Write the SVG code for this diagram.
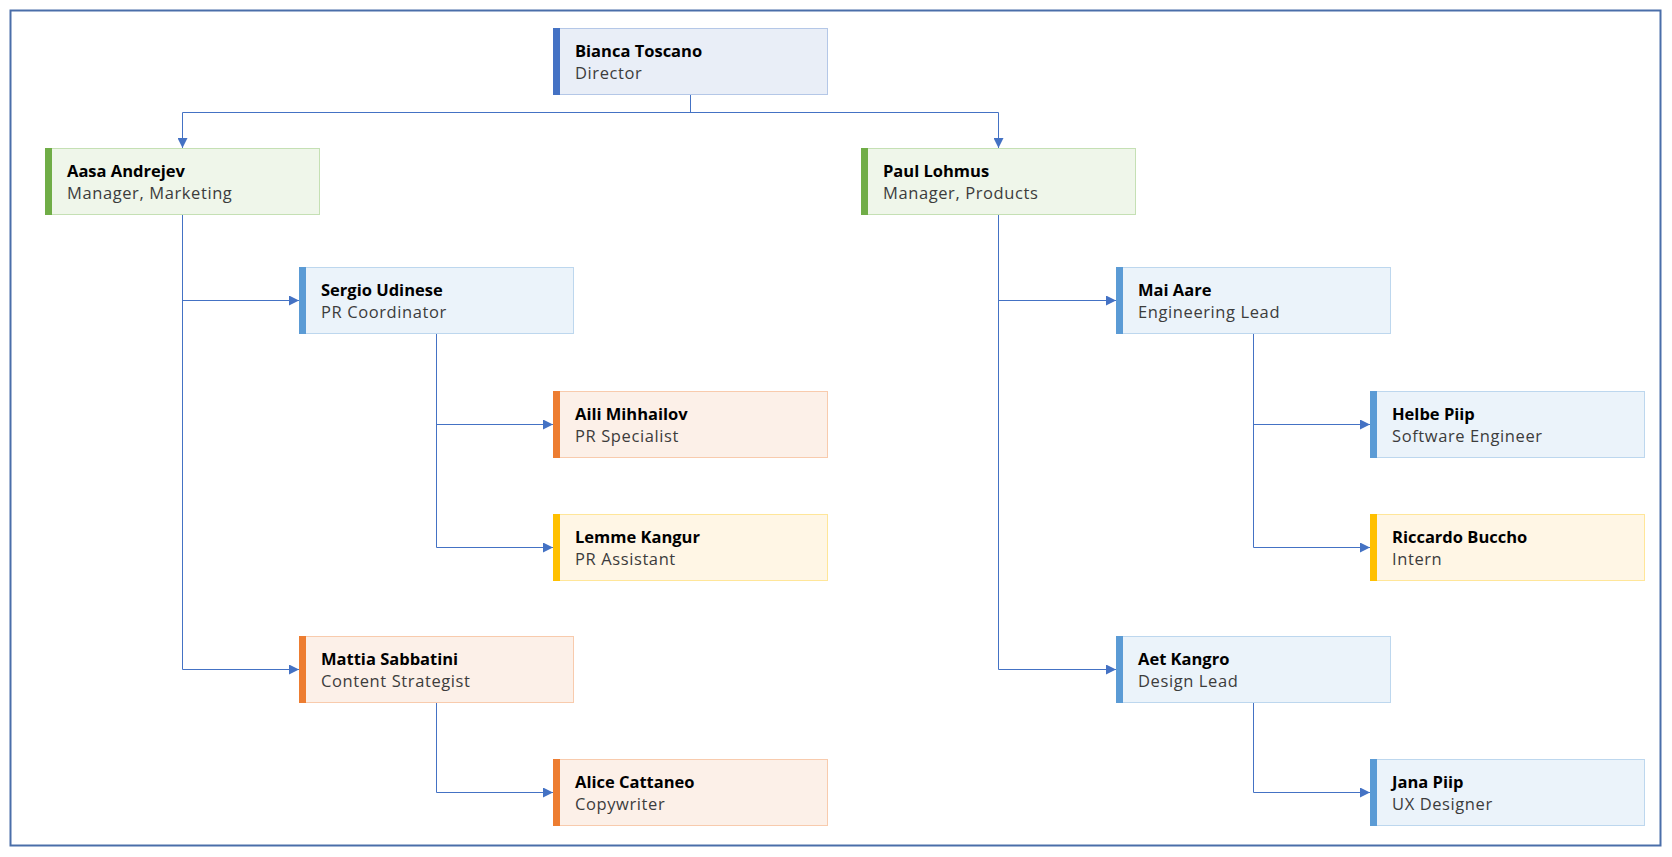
<svg xmlns="http://www.w3.org/2000/svg" width="1672" height="857" viewBox="0 0 1672 857">
<style>
.bg{fill:#ffffff}
.frame{fill:none;stroke:#4a6ea9;stroke-width:2}
.box{stroke-width:1}
.name{font-family:"Open Sans","Noto Sans","Liberation Sans",sans-serif;font-weight:bold;font-size:16.5px;fill:#000000}
.sub{font-family:"Open Sans","Noto Sans","Liberation Sans",sans-serif;font-size:16.5px;letter-spacing:0.6px;fill:#3c3c3c}
.navy .box{fill:#e9eef7;stroke:#b4c7e7}.navy .bar{fill:#4472c4}
.green .box{fill:#eff6ea;stroke:#c5e0b4}.green .bar{fill:#70ad47}
.sky .box{fill:#ebf3fa;stroke:#bdd7ee}.sky .bar{fill:#5b9bd5}
.orange .box{fill:#fcf0e8;stroke:#f8cbad}.orange .bar{fill:#ed7d31}
.yellow .box{fill:#fff6e5;stroke:#ffe699}.yellow .bar{fill:#ffc000}
.conn path{fill:none;stroke:#4472c4;stroke-width:1}
</style>
<defs>
<marker id="arr" markerUnits="userSpaceOnUse" markerWidth="10" markerHeight="10" refX="10" refY="5" orient="auto" viewBox="0 0 10 10">
<path d="M0,0 L10,5 L0,10 z" fill="#4472c4"/>
</marker>
</defs>
<rect class="bg" x="0" y="0" width="1672" height="857"/>
<rect class="frame" x="10.5" y="10.5" width="1650" height="835"/>

<g id="connectors" class="conn">
<path d="M690.5 94.5 V112.5"/>
<path d="M182.5 112.5 H998.5"/>
<path d="M182.5 112.5 V148" marker-end="url(#arr)"/>
<path d="M998.5 112.5 V148" marker-end="url(#arr)"/>
<path d="M182.5 214.5 V669.5"/>
<path d="M182.5 300.5 H299" marker-end="url(#arr)"/>
<path d="M182.5 669.5 H299" marker-end="url(#arr)"/>
<path d="M436.5 333.5 V547.5"/>
<path d="M436.5 424.5 H553" marker-end="url(#arr)"/>
<path d="M436.5 547.5 H553" marker-end="url(#arr)"/>
<path d="M436.5 702.5 V792.5 H553" marker-end="url(#arr)"/>
<path d="M998.5 214.5 V669.5"/>
<path d="M998.5 300.5 H1116" marker-end="url(#arr)"/>
<path d="M998.5 669.5 H1116" marker-end="url(#arr)"/>
<path d="M1253.5 333.5 V547.5"/>
<path d="M1253.5 424.5 H1370" marker-end="url(#arr)"/>
<path d="M1253.5 547.5 H1370" marker-end="url(#arr)"/>
<path d="M1253.5 702.5 V792.5 H1370" marker-end="url(#arr)"/>
</g>

<g id="n-bianca" class="navy" transform="translate(553.5,28.5)"><rect class="box" width="274" height="66"/><rect class="bar" x="-0.5" y="-0.5" width="7" height="67"/><text class="name" x="21.5" y="28">Bianca Toscano</text><text class="sub" x="21.5" y="50">Director</text></g>

<g id="n-aasa" class="green" transform="translate(45.5,148.5)"><rect class="box" width="274" height="66"/><rect class="bar" x="-0.5" y="-0.5" width="7" height="67"/><text class="name" x="21.5" y="28">Aasa Andrejev</text><text class="sub" x="21.5" y="50">Manager, Marketing</text></g>

<g id="n-paul" class="green" transform="translate(861.5,148.5)"><rect class="box" width="274" height="66"/><rect class="bar" x="-0.5" y="-0.5" width="7" height="67"/><text class="name" x="21.5" y="28">Paul Lohmus</text><text class="sub" x="21.5" y="50">Manager, Products</text></g>

<g id="n-sergio" class="sky" transform="translate(299.5,267.5)"><rect class="box" width="274" height="66"/><rect class="bar" x="-0.5" y="-0.5" width="7" height="67"/><text class="name" x="21.5" y="28">Sergio Udinese</text><text class="sub" x="21.5" y="50">PR Coordinator</text></g>

<g id="n-aili" class="orange" transform="translate(553.5,391.5)"><rect class="box" width="274" height="66"/><rect class="bar" x="-0.5" y="-0.5" width="7" height="67"/><text class="name" x="21.5" y="28">Aili Mihhailov</text><text class="sub" x="21.5" y="50">PR Specialist</text></g>

<g id="n-lemme" class="yellow" transform="translate(553.5,514.5)"><rect class="box" width="274" height="66"/><rect class="bar" x="-0.5" y="-0.5" width="7" height="67"/><text class="name" x="21.5" y="28">Lemme Kangur</text><text class="sub" x="21.5" y="50">PR Assistant</text></g>

<g id="n-mattia" class="orange" transform="translate(299.5,636.5)"><rect class="box" width="274" height="66"/><rect class="bar" x="-0.5" y="-0.5" width="7" height="67"/><text class="name" x="21.5" y="28">Mattia Sabbatini</text><text class="sub" x="21.5" y="50">Content Strategist</text></g>

<g id="n-alice" class="orange" transform="translate(553.5,759.5)"><rect class="box" width="274" height="66"/><rect class="bar" x="-0.5" y="-0.5" width="7" height="67"/><text class="name" x="21.5" y="28">Alice Cattaneo</text><text class="sub" x="21.5" y="50">Copywriter</text></g>

<g id="n-mai" class="sky" transform="translate(1116.5,267.5)"><rect class="box" width="274" height="66"/><rect class="bar" x="-0.5" y="-0.5" width="7" height="67"/><text class="name" x="21.5" y="28">Mai Aare</text><text class="sub" x="21.5" y="50">Engineering Lead</text></g>

<g id="n-helbe" class="sky" transform="translate(1370.5,391.5)"><rect class="box" width="274" height="66"/><rect class="bar" x="-0.5" y="-0.5" width="7" height="67"/><text class="name" x="21.5" y="28">Helbe Piip</text><text class="sub" x="21.5" y="50">Software Engineer</text></g>

<g id="n-riccardo" class="yellow" transform="translate(1370.5,514.5)"><rect class="box" width="274" height="66"/><rect class="bar" x="-0.5" y="-0.5" width="7" height="67"/><text class="name" x="21.5" y="28">Riccardo Buccho</text><text class="sub" x="21.5" y="50">Intern</text></g>

<g id="n-aet" class="sky" transform="translate(1116.5,636.5)"><rect class="box" width="274" height="66"/><rect class="bar" x="-0.5" y="-0.5" width="7" height="67"/><text class="name" x="21.5" y="28">Aet Kangro</text><text class="sub" x="21.5" y="50">Design Lead</text></g>

<g id="n-jana" class="sky" transform="translate(1370.5,759.5)"><rect class="box" width="274" height="66"/><rect class="bar" x="-0.5" y="-0.5" width="7" height="67"/><text class="name" x="21.5" y="28">Jana Piip</text><text class="sub" x="21.5" y="50">UX Designer</text></g>
</svg>
